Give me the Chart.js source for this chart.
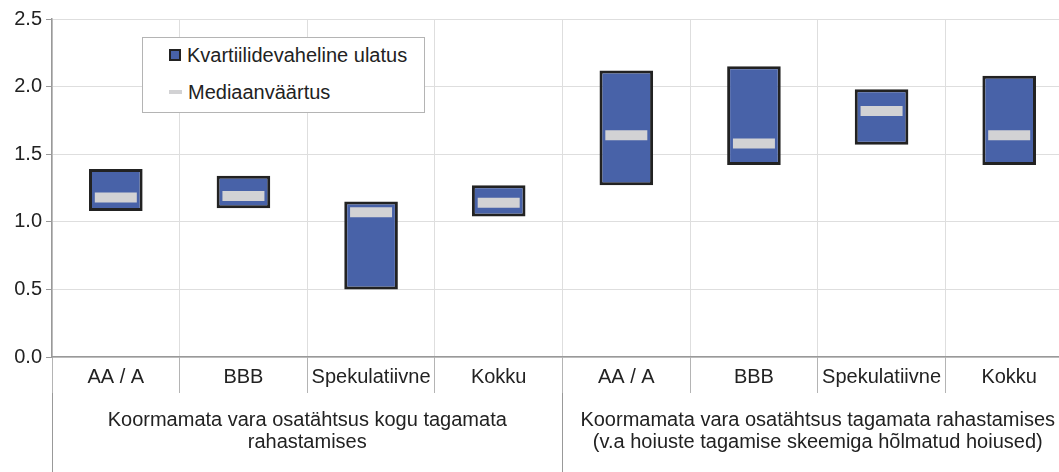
<!DOCTYPE html>
<html>
<head>
<meta charset="utf-8">
<script src="https://cdn.jsdelivr.net/npm/chart.js@4.4.0/dist/chart.umd.min.js"></script>
<style>
  html, body { margin: 0; padding: 0; background: #fff; overflow: hidden; }
  #wrap { position: relative; width: 1073px; height: 472px; }
  #legend {
    position: absolute; left: 142px; top: 37px; width: 281px; height: 74px;
    border: 1px solid #b4b4b4; background: #fff;
    font-family: "Liberation Sans", Arial, sans-serif; font-size: 20px; color: #222;
  }
  #legend .row { position: absolute; left: 26px; white-space: nowrap; }
  #legend .sw1 { display: inline-block; width: 8px; height: 8px; background: #4862a8; border: 2px solid #222; vertical-align: 1px; margin-right: 6px; }
  #legend .sw2 { display: inline-block; width: 13px; height: 4px; background: #d2d2d4; vertical-align: 5px; margin-right: 6px; }
</style>
</head>
<body>
<div id="wrap">
  <canvas id="boxChart"></canvas>
  <div id="legend">
    <div class="row" style="top:6px"><span class="sw1"></span>Kvartiilidevaheline ulatus</div>
    <div class="row" style="top:43px"><span class="sw2"></span>Mediaanväärtus</div>
  </div>
</div>
<script>
// kategooriad ja grupid
const categories = ["AA / A", "BBB", "Spekulatiivne", "Kokku", "AA / A", "BBB", "Spekulatiivne", "Kokku"];
const groups = [
  ["Koormamata vara osatähtsus kogu tagamata", "rahastamises"],
  ["Koormamata vara osatähtsus tagamata rahastamises", "(v.a hoiuste tagamise skeemiga hõlmatud hoiused)"]
];
// kvartiilid ja mediaan
const q1 = [1.08, 1.10, 0.50, 1.04, 1.27, 1.42, 1.57, 1.42];
const q3 = [1.39, 1.34, 1.15, 1.27, 2.12, 2.15, 1.98, 2.08];
const median = [1.18, 1.19, 1.07, 1.14, 1.64, 1.58, 1.82, 1.64];
const yTicks = [0, 0.5, 1.0, 1.5, 2.0, 2.5];

const font = { family: '"Liberation Sans", Arial, sans-serif', size: 20, lineHeight: 1.1 };
const ctx = document.getElementById("boxChart");

new Chart(ctx, {
  type: 'bar',
  data: {
    labels: categories,
    datasets: [
      {
        type: 'line',
        label: 'Mediaanväärtus',
        data: median,
        showLine: false,
        pointStyle: 'line',
        pointRadius: 21,
        pointHoverRadius: 21,
        pointBorderWidth: 10,
        pointHoverBorderWidth: 10,
        borderColor: '#d2d2d4',
        order: 1
      },
      {
        label: 'Kvartiilidevaheline ulatus',
        data: q1.map((v, i) => [v, q3[i]]),
        backgroundColor: '#4862a8',
        borderColor: '#222',
        borderWidth: 3,
        borderSkipped: false,
        categoryPercentage: 1,
        barPercentage: 0.42,
        order: 2
      }
    ]
  },
  options: {
    responsive: true,
    maintainAspectRatio: false,
    animation: false,
    layout: { autoPadding: false, padding: { top: 19, right: 0, bottom: 0, left: 0 } },
    plugins: {
      legend: { display: false },
      tooltip: { enabled: false }
    },
    scales: {
      y: {
        min: 0,
        max: 2.5,
        afterBuildTicks: function(scale) {
          scale.ticks = yTicks.map(v => ({ value: v }));
        },
        afterFit: function(scale) { scale.width = 52; },
        ticks: {
          font: font,
          color: '#222',
          padding: 4,
          callback: function(value) { return Number(value).toFixed(1); }
        },
        grid: { color: '#dedede', tickColor: '#999', tickLength: 6 },
        border: { color: '#999', width: 1.5 }
      },
      x: {
        offset: true,
        afterFit: function(scale) { scale.height = 36; },
        ticks: {
          font: font,
          color: '#222',
          padding: -27,
          autoSkip: false,
          maxRotation: 0,
          minRotation: 0
        },
        grid: { offset: true, color: '#dedede', tickColor: '#b4b4b4', tickLength: 36 },
        border: { color: '#999', width: 1.5 }
      },
      x2: {
        type: 'category',
        position: 'bottom',
        labels: groups,
        offset: true,
        afterFit: function(scale) { scale.height = 79; },
        ticks: {
          font: font,
          color: '#222',
          padding: -63,
          autoSkip: false,
          maxRotation: 0,
          minRotation: 0
        },
        grid: { offset: true, drawOnChartArea: false, tickColor: '#999', tickLength: 79 },
        border: { display: false }
      }
    }
  }
});
</script>
</body>
</html>
